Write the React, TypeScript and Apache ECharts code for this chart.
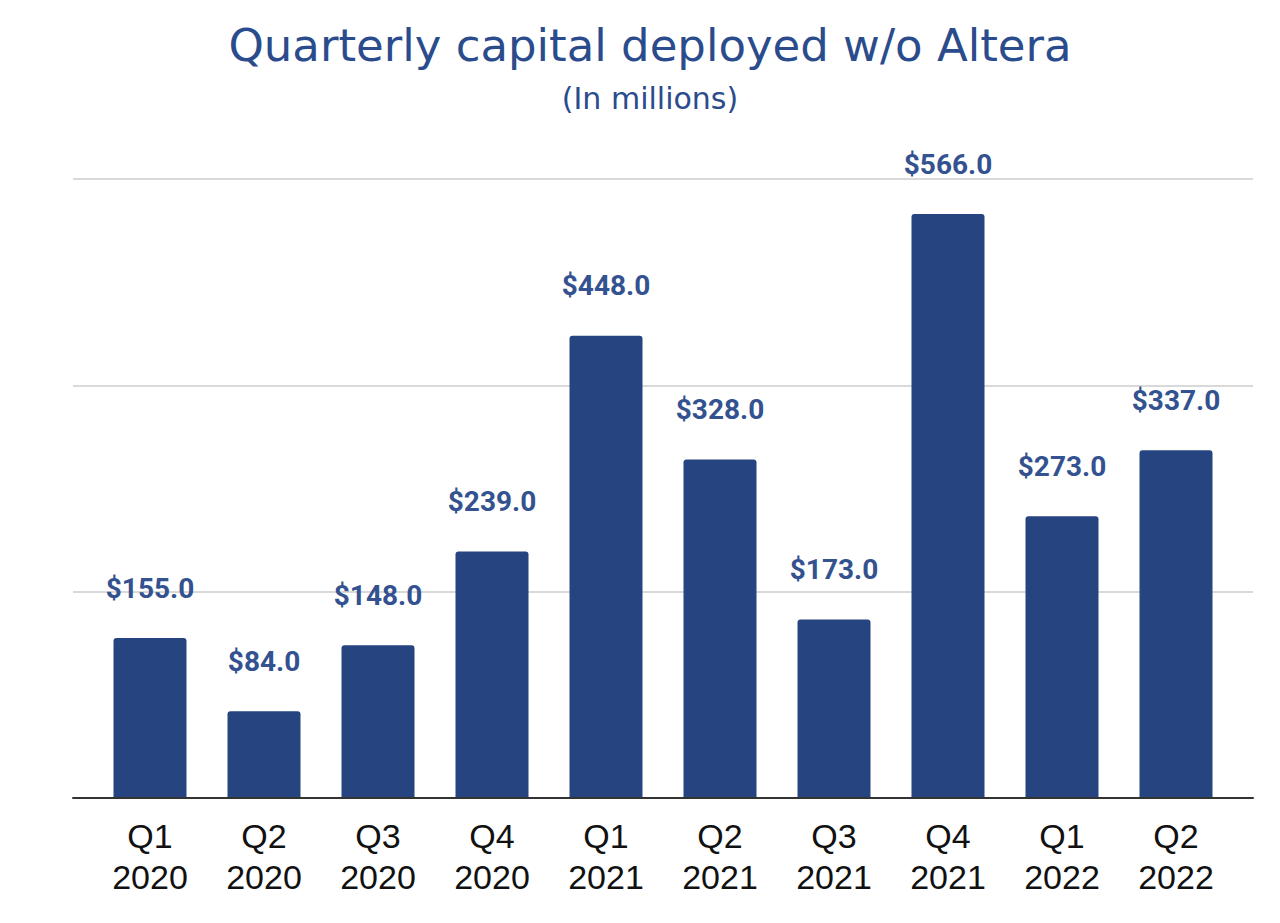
import React, { useEffect, useRef } from "react";
import * as echarts from "echarts";

const categories = ["Q1\n2020", "Q2\n2020", "Q3\n2020", "Q4\n2020", "Q1\n2021", "Q2\n2021", "Q3\n2021", "Q4\n2021", "Q1\n2022", "Q2\n2022"];
const capitalDeployed = [155, 84, 148, 239, 448, 328, 173, 566, 273, 337];
const yMin = 0;
const yMax = 600;
const yInterval = 200;
const titleText = "Quarterly capital deployed w/o Altera";
const subtitleText = "(In millions)";

export default function App() {
  const ref = useRef<HTMLDivElement>(null);
  useEffect(() => {
    if (!ref.current) return;
    const chart = echarts.init(ref.current, null, { renderer: "svg" });
    const gridTop = 179;
    const gridBottom = 125;
    chart.setOption({
      animation: false,
      backgroundColor: "#ffffff",
      title: [
        {
          text: titleText,
          left: 645,
          textAlign: "center",
          top: 18,
          textStyle: { fontFamily: "DejaVu Sans", fontSize: 45, fontWeight: "normal", color: "#2b4c8c" },
        },
        {
          text: subtitleText,
          left: 645,
          textAlign: "center",
          top: 78,
          textStyle: { fontFamily: "DejaVu Sans", fontSize: 30, fontWeight: "normal", color: "#2b4c8c" },
        },
      ],
      grid: [
        { left: 73, right: 27, top: gridTop, bottom: gridBottom },
        { left: 93, right: 47, top: gridTop, bottom: gridBottom },
      ],
      xAxis: [
        {
          type: "category",
          gridIndex: 0,
          data: categories,
          axisLine: { show: true, lineStyle: { color: "#333333", width: 2 } },
          axisTick: { show: false },
          axisLabel: { show: false },
          z: 5,
        },
        {
          type: "category",
          gridIndex: 1,
          data: categories,
          axisLine: { show: false },
          axisTick: { show: false },
          axisLabel: {
            color: "#111111",
            fontFamily: "Liberation Sans, Arial, sans-serif",
            fontSize: 34,
            lineHeight: 41,
            margin: 17,
          },
        },
      ],
      yAxis: [
        {
          type: "value",
          gridIndex: 0,
          min: yMin,
          max: yMax,
          interval: yInterval,
          axisLine: { show: false },
          axisTick: { show: false },
          axisLabel: { show: false },
          splitLine: { show: true, lineStyle: { color: "#cccccc", width: 1.5 } },
        },
        {
          type: "value",
          gridIndex: 1,
          min: yMin,
          max: yMax,
          interval: yInterval,
          axisLine: { show: false },
          axisTick: { show: false },
          axisLabel: { show: false },
          splitLine: { show: false },
        },
      ],
      series: [
        {
          type: "bar",
          xAxisIndex: 1,
          yAxisIndex: 1,
          data: capitalDeployed,
          barWidth: 73,
          itemStyle: { color: "#26447f", borderRadius: [3, 3, 0, 0] },
          label: {
            show: true,
            position: "top",
            distance: 36,
            formatter: (p: any) => "$" + Number(p.value).toFixed(1),
            fontFamily: "Roboto",
            fontWeight: "bold",
            fontSize: 28,
            color: "#33528f",
          },
        },
      ],
    });
    return () => chart.dispose();
  }, []);
  return (
    <div
      ref={ref}
      style={{ position: "absolute", left: 0, top: 0, width: 1280, height: 923 }}
    />
  );
}
